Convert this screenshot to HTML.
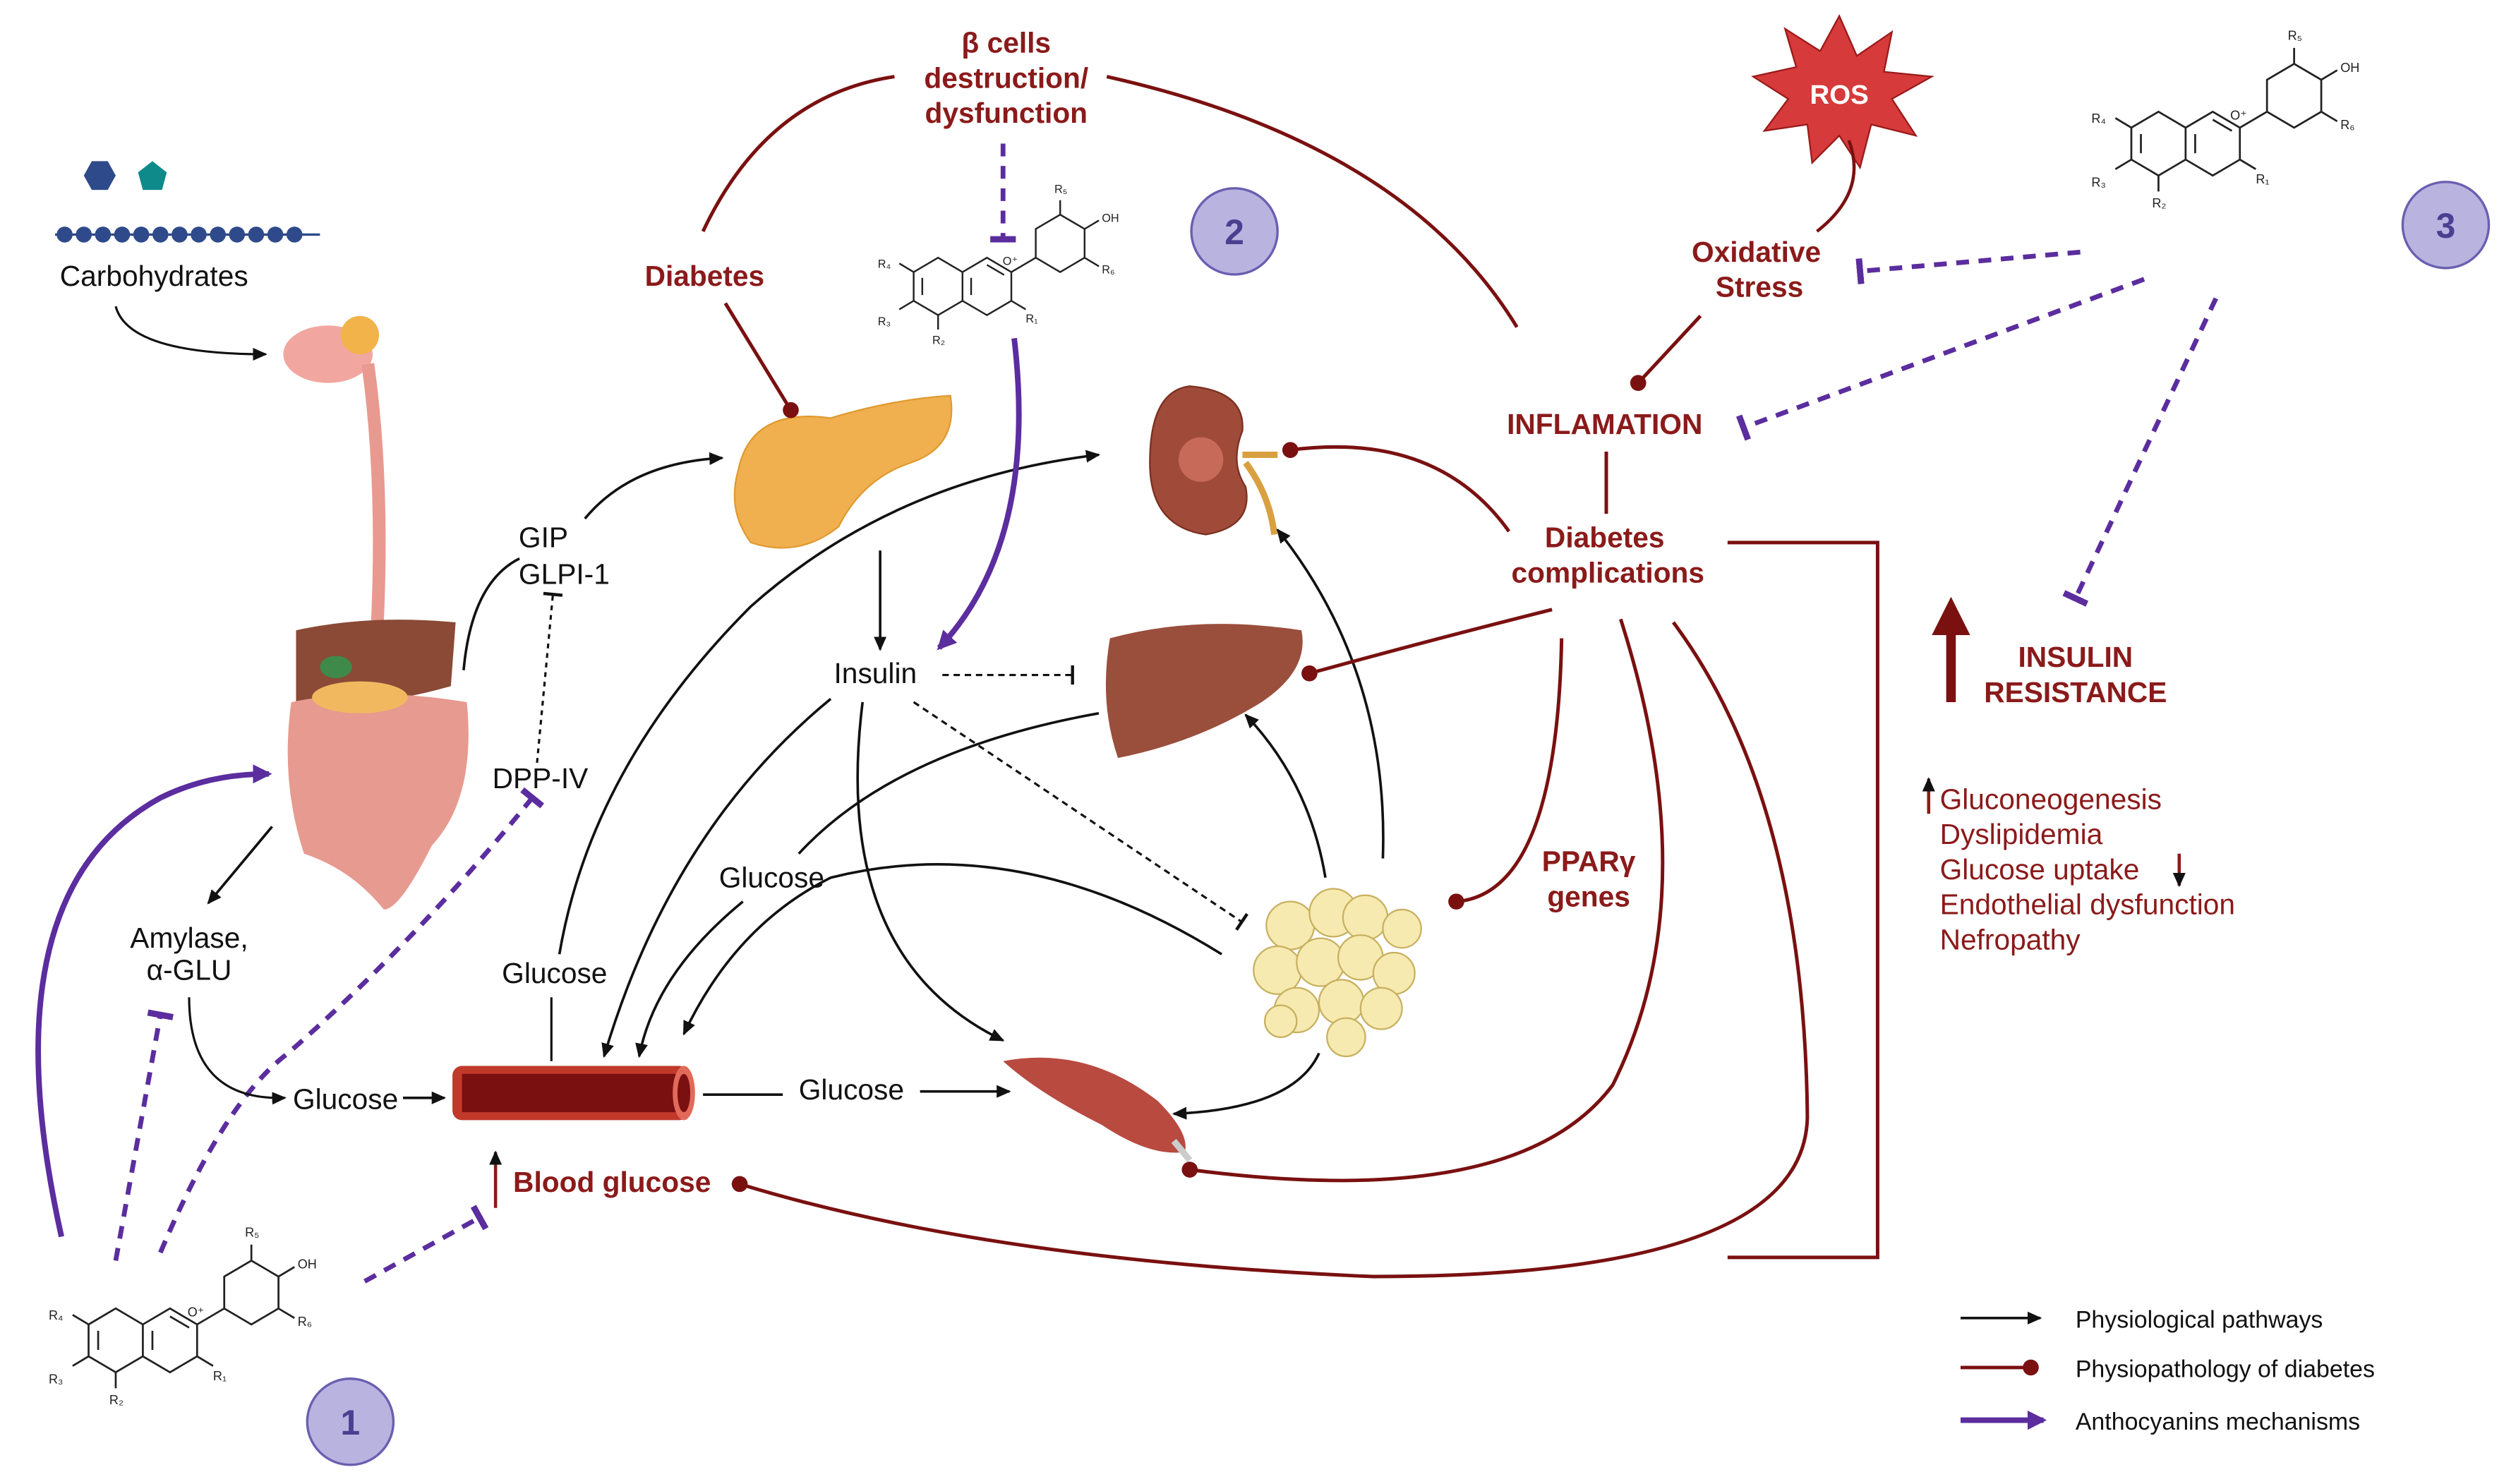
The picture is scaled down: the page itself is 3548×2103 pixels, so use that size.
<!DOCTYPE html>
<html><head><meta charset="utf-8"><style>
html,body{margin:0;padding:0;background:#fff;}
svg{display:block;}
text{font-family:"Liberation Sans",sans-serif;}
.k{font-size:18px;fill:#111;}
.r{font-size:18px;fill:#8b1a1a;font-weight:bold;}
.rl{font-size:18px;fill:#8b1a1a;}
.s{font-size:8px;fill:#222;}
</style></head><body>
<svg width="3548" height="2103" viewBox="0 0 1568 930" xmlns="http://www.w3.org/2000/svg">
<defs>
<marker id="ak" markerWidth="10" markerHeight="10" refX="8" refY="5" orient="auto" markerUnits="userSpaceOnUse"><path d="M0,1 L9,5 L0,9 Z" fill="#111"/></marker>
<marker id="ap" markerWidth="14" markerHeight="14" refX="10" refY="7" orient="auto" markerUnits="userSpaceOnUse"><path d="M0,1 L12,7 L0,13 Z" fill="#5b2d9e"/></marker>
<marker id="tp" markerWidth="4" markerHeight="20" refX="2" refY="10" orient="auto" markerUnits="userSpaceOnUse"><rect x="0" y="2" width="4" height="16" fill="#5b2d9e"/></marker>
<marker id="tk" markerWidth="3" markerHeight="14" refX="1.5" refY="7" orient="auto" markerUnits="userSpaceOnUse"><rect x="0" y="1" width="2" height="12" fill="#111"/></marker>
<marker id="dr" markerWidth="12" markerHeight="12" refX="6" refY="6" orient="auto" markerUnits="userSpaceOnUse"><circle cx="6" cy="6" r="5" fill="#7a1010"/></marker>
<g id="mol" fill="none" stroke="#222" stroke-width="1.2">
<path d="M30,45 l17,-10 l17,10 v20 l-17,10 l-17,-10 z M64,45 l17,-10 l17,10 v20 l-17,10 l-17,-10 z M98,45 l17,-10 M115,35 l0,-20 l17,-10 l17,10 v20 l-17,10 z M149,15 l10,-6 M149,35 l10,6 M132,5 v-10 M30,45 l-10,-6 M30,65 l-10,6 M47,75 v10 M98,65 l10,6 M36,49 v12 M70,49 v12 M81,40 l12,7"/>
</g>
</defs>

<!-- Carbohydrates -->
<polygon points="52,110 57,101 67,101 72,110 67,119 57,119" fill="#2e4a8a"/>
<polygon points="95,101 104,108 101,119 89,119 86,108" fill="#0e8a8a"/>
<g fill="#2e4a8a">
<circle cx="40" cy="147" r="5"/><circle cx="52" cy="147" r="5"/><circle cx="64" cy="147" r="5"/><circle cx="76" cy="147" r="5"/><circle cx="88" cy="147" r="5"/><circle cx="100" cy="147" r="5"/><circle cx="112" cy="147" r="5"/><circle cx="124" cy="147" r="5"/><circle cx="136" cy="147" r="5"/><circle cx="148" cy="147" r="5"/><circle cx="160" cy="147" r="5"/><circle cx="172" cy="147" r="5"/><circle cx="184" cy="147" r="5"/>
</g>
<line x1="34" y1="147" x2="200" y2="147" stroke="#2e4a8a" stroke-width="1.5"/>
<text x="96" y="179" class="k" text-anchor="middle">Carbohydrates</text>
<path d="M72,192 Q80,222 166,222" fill="none" stroke="#111" stroke-width="1.4" marker-end="url(#ak)"/>

<!-- digestive tract -->
<ellipse cx="205" cy="222" rx="28" ry="18" fill="#f1a7a0"/>
<ellipse cx="225" cy="210" rx="12" ry="12" fill="#f2b34a"/>
<path d="M230,228 Q240,300 236,390" stroke="#e89a90" stroke-width="8" fill="none"/>
<path d="M185,395 Q230,385 285,390 L282,430 Q230,445 185,440 Z" fill="#8a4a36"/>
<path d="M182,440 Q230,430 292,440 Q298,500 270,530 Q250,570 240,570 Q220,545 190,535 Q175,490 182,440 Z" fill="#e79a8f"/>
<ellipse cx="225" cy="437" rx="30" ry="10" fill="#f2b860"/>
<ellipse cx="210" cy="418" rx="10" ry="7" fill="#3f8a4a"/>

<text x="340" y="343" class="k" text-anchor="middle">GIP</text>
<text x="353" y="366" class="k" text-anchor="middle">GLPI-1</text>
<text x="338" y="494" class="k" text-anchor="middle">DPP-IV</text>
<path d="M290,420 Q295,365 325,350" fill="none" stroke="#111" stroke-width="1.6"/>
<path d="M366,325 Q395,290 452,287" fill="none" stroke="#111" stroke-width="1.6" marker-end="url(#ak)"/>
<path d="M336,478 L346,372" fill="none" stroke="#111" stroke-width="1.4" stroke-dasharray="3,3" marker-end="url(#tk)"/>
<path d="M100,785 Q140,690 180,660 Q260,590 333,500" fill="none" stroke="#5b2d9e" stroke-width="3" stroke-dasharray="8,6" marker-end="url(#tp)"/>
<path d="M72,790 L100,636" fill="none" stroke="#5b2d9e" stroke-width="3" stroke-dasharray="8,6" marker-end="url(#tp)"/>
<path d="M38,775 Q-10,560 100,500 Q130,485 168,485" fill="none" stroke="#5b2d9e" stroke-width="3.5" marker-end="url(#ap)"/>

<text x="118" y="594" class="k" text-anchor="middle">Amylase,</text>
<text x="118" y="614" class="k" text-anchor="middle">α-GLU</text>
<path d="M170,518 L130,566" fill="none" stroke="#111" stroke-width="1.6" marker-end="url(#ak)"/>
<path d="M118,625 Q118,690 178,688" fill="none" stroke="#111" stroke-width="1.4" marker-end="url(#ak)"/>
<text x="216" y="695" class="k" text-anchor="middle">Glucose</text>
<path d="M252,688 L278,688" stroke="#111" stroke-width="1.6" marker-end="url(#ak)"/>

<!-- vessel -->
<rect x="283" y="668" width="148" height="34" rx="6" fill="#c0392b"/>
<rect x="289" y="673" width="136" height="24" fill="#7a1010"/>
<ellipse cx="428" cy="685" rx="7" ry="17" fill="#e26a5a"/>
<ellipse cx="428" cy="685" rx="4" ry="12" fill="#7a1010"/>
<text x="347" y="616" class="k" text-anchor="middle">Glucose</text>
<path d="M345,665 L345,625" stroke="#111" stroke-width="1.4"/>
<path d="M350,598 Q370,480 470,380 Q560,300 688,285" fill="none" stroke="#111" stroke-width="1.6" marker-end="url(#ak)"/>
<path d="M440,686 L490,686" stroke="#111" stroke-width="1.6"/>
<text x="533" y="689" class="k" text-anchor="middle">Glucose</text>
<path d="M576,684 L632,684" stroke="#111" stroke-width="1.6" marker-end="url(#ak)"/>
<path d="M310,757 L310,722" stroke="#8b1a1a" stroke-width="2" marker-end="url(#ak)"/>
<text x="383" y="747" class="r" text-anchor="middle">Blood glucose</text>
<path d="M228,803 L300,763" fill="none" stroke="#5b2d9e" stroke-width="3" stroke-dasharray="8,6" marker-end="url(#tp)"/>

<!-- molecule 1 -->
<g transform="translate(25,785)"><use href="#mol"/>
<text x="5" y="42" class="s">R₄</text><text x="5" y="82" class="s">R₃</text><text x="43" y="95" class="s">R₂</text><text x="108" y="80" class="s">R₁</text><text x="128" y="-10" class="s">R₅</text><text x="161" y="10" class="s">OH</text><text x="161" y="46" class="s">R₆</text><text x="92" y="40" class="s">O⁺</text></g>
<circle cx="219" cy="891" r="27" fill="#b9b3e0" stroke="#6a5fb0" stroke-width="1.5"/>
<text x="219" y="899" text-anchor="middle" style="font-size:22px;font-weight:bold;fill:#4a3f90">1</text>

<!-- pancreas -->
<path d="M462,295 Q470,255 520,262 Q560,250 595,248 Q600,280 570,290 Q540,300 525,330 Q500,350 470,340 Q455,320 462,295 Z" fill="#f0b050" stroke="#e09a30"/>
<text x="441" y="179" class="r" text-anchor="middle">Diabetes</text>
<path d="M454,190 L495,257" stroke="#7a1010" stroke-width="2.2" marker-end="url(#dr)"/>
<text x="630" y="33" class="r" text-anchor="middle">β cells</text>
<text x="630" y="55" class="r" text-anchor="middle">destruction/</text>
<text x="630" y="77" class="r" text-anchor="middle">dysfunction</text>
<path d="M560,48 Q480,60 440,145" fill="none" stroke="#7a1010" stroke-width="2.2"/>
<path d="M693,48 Q880,90 950,205" fill="none" stroke="#7a1010" stroke-width="2.2"/>
<path d="M628,90 L628,150" stroke="#5b2d9e" stroke-width="3" stroke-dasharray="8,6" marker-end="url(#tp)"/>
<g transform="translate(545,130) scale(0.9)"><use href="#mol"/>
<text x="5" y="42" class="s">R₄</text><text x="5" y="82" class="s">R₃</text><text x="43" y="95" class="s">R₂</text><text x="108" y="80" class="s">R₁</text><text x="128" y="-10" class="s">R₅</text><text x="161" y="10" class="s">OH</text><text x="161" y="46" class="s">R₆</text><text x="92" y="40" class="s">O⁺</text></g>
<circle cx="773" cy="145" r="27" fill="#b9b3e0" stroke="#6a5fb0" stroke-width="1.5"/>
<text x="773" y="153" text-anchor="middle" style="font-size:22px;font-weight:bold;fill:#4a3f90">2</text>
<path d="M635,212 Q650,340 588,406" fill="none" stroke="#5b2d9e" stroke-width="3.5" marker-end="url(#ap)"/>

<text x="548" y="428" class="k" text-anchor="middle">Insulin</text>
<path d="M551,345 L551,407" stroke="#111" stroke-width="1.6" marker-end="url(#ak)"/>
<path d="M590,423 L672,423" stroke="#111" stroke-width="1.4" stroke-dasharray="4,3" marker-end="url(#tk)"/>
<path d="M572,440 L778,578" stroke="#111" stroke-width="1.4" stroke-dasharray="4,3" marker-end="url(#tk)"/>
<path d="M520,438 Q420,520 378,662" fill="none" stroke="#111" stroke-width="1.6" marker-end="url(#ak)"/>
<path d="M540,440 Q520,600 628,652" fill="none" stroke="#111" stroke-width="1.6" marker-end="url(#ak)"/>
<text x="483" y="556" class="k" text-anchor="middle">Glucose</text>
<path d="M688,447 Q560,470 500,535 M465,565 Q410,610 400,662" fill="none" stroke="#111" stroke-width="1.6" marker-end="url(#ak)"/>
<path d="M765,598 Q640,520 520,550 Q460,580 428,648" fill="none" stroke="#111" stroke-width="1.6" marker-end="url(#ak)"/>

<!-- kidney -->
<path d="M745,242 Q780,245 778,270 Q770,290 780,305 Q785,330 755,335 Q720,330 720,290 Q720,245 745,242 Z" fill="#a04a3a" stroke="#7a3020"/>
<path d="M778,285 L800,285 M780,290 Q795,310 798,335" stroke="#d9a040" stroke-width="4" fill="none"/>
<circle cx="752" cy="288" r="14" fill="#c86a5a"/>
<!-- liver -->
<path d="M695,400 Q750,385 815,395 Q820,420 790,440 Q750,465 700,475 Q688,440 695,400 Z" fill="#9a4e3c"/>
<!-- fat -->
<g fill="#f6eab0" stroke="#c8b060">
<circle cx="808" cy="580" r="15"/><circle cx="835" cy="572" r="15"/><circle cx="855" cy="575" r="14"/><circle cx="878" cy="582" r="12"/><circle cx="800" cy="608" r="15"/><circle cx="827" cy="603" r="15"/><circle cx="852" cy="600" r="14"/><circle cx="873" cy="610" r="13"/><circle cx="812" cy="633" r="14"/><circle cx="840" cy="628" r="14"/><circle cx="865" cy="632" r="13"/><circle cx="843" cy="650" r="12"/><circle cx="802" cy="640" r="10"/></g>
<!-- muscle -->
<path d="M628,665 Q680,655 725,690 Q745,710 742,722 Q720,725 690,705 Q650,685 628,665 Z" fill="#b84a40"/>
<path d="M735,715 L745,727" stroke="#ccc" stroke-width="4"/>

<path d="M830,550 Q820,490 780,448" fill="none" stroke="#111" stroke-width="1.6" marker-end="url(#ak)"/>
<path d="M866,538 Q870,420 800,332" fill="none" stroke="#111" stroke-width="1.6" marker-end="url(#ak)"/>
<path d="M826,660 Q810,695 735,698" fill="none" stroke="#111" stroke-width="1.6" marker-end="url(#ak)"/>

<!-- right side -->
<polygon points="1152,10 1163,35 1185,20 1180,45 1210,48 1185,62 1200,85 1172,78 1165,105 1152,85 1135,102 1132,78 1105,82 1120,62 1098,48 1125,42 1118,18 1140,32" fill="#d63a3a" stroke="#9a1a1a"/>
<text x="1152" y="65" text-anchor="middle" style="font-size:17px;font-weight:bold;fill:#fff">ROS</text>
<path d="M1158,88 Q1170,120 1138,145" fill="none" stroke="#7a1010" stroke-width="2"/>
<text x="1100" y="164" class="r" text-anchor="middle">Oxidative</text>
<text x="1102" y="186" class="r" text-anchor="middle">Stress</text>
<path d="M1065,198 L1026,240" stroke="#7a1010" stroke-width="2.2" marker-end="url(#dr)"/>
<text x="1005" y="272" class="r" text-anchor="middle">INFLAMATION</text>
<path d="M1006,283 L1006,322" stroke="#7a1010" stroke-width="2.2"/>
<text x="1005" y="343" class="r" text-anchor="middle">Diabetes</text>
<text x="1007" y="365" class="r" text-anchor="middle">complications</text>
<path d="M1082,340 L1176,340 L1176,788 L1082,788" fill="none" stroke="#7a1010" stroke-width="2.2"/>
<path d="M945,333 Q900,270 808,282" fill="none" stroke="#7a1010" stroke-width="2.2" marker-end="url(#dr)"/>
<path d="M972,382 Q900,400 820,422" fill="none" stroke="#7a1010" stroke-width="2.2" marker-end="url(#dr)"/>
<path d="M978,400 Q975,560 912,565" fill="none" stroke="#7a1010" stroke-width="2.2" marker-end="url(#dr)"/>
<path d="M1015,388 Q1070,560 1010,680 Q950,760 745,733" fill="none" stroke="#7a1010" stroke-width="2.2" marker-end="url(#dr)"/>
<path d="M1048,390 Q1130,500 1132,700 Q1130,800 860,800 Q620,790 463,742" fill="none" stroke="#7a1010" stroke-width="2.2" marker-end="url(#dr)"/>
<text x="995" y="546" class="r" text-anchor="middle">PPARγ</text>
<text x="995" y="568" class="r" text-anchor="middle">genes</text>

<g transform="translate(1305,35)"><use href="#mol"/>
<text x="5" y="42" class="s">R₄</text><text x="5" y="82" class="s">R₃</text><text x="43" y="95" class="s">R₂</text><text x="108" y="80" class="s">R₁</text><text x="128" y="-10" class="s">R₅</text><text x="161" y="10" class="s">OH</text><text x="161" y="46" class="s">R₆</text><text x="92" y="40" class="s">O⁺</text></g>
<circle cx="1532" cy="141" r="27" fill="#b9b3e0" stroke="#6a5fb0" stroke-width="1.5"/>
<text x="1532" y="149" text-anchor="middle" style="font-size:22px;font-weight:bold;fill:#4a3f90">3</text>
<path d="M1303,158 L1165,170" stroke="#5b2d9e" stroke-width="3" stroke-dasharray="8,6" marker-end="url(#tp)"/>
<path d="M1343,175 L1092,268" stroke="#5b2d9e" stroke-width="3" stroke-dasharray="8,6" marker-end="url(#tp)"/>
<path d="M1388,187 L1300,375" stroke="#5b2d9e" stroke-width="3" stroke-dasharray="8,6" marker-end="url(#tp)"/>

<path d="M1222,440 L1222,395" stroke="#7a1010" stroke-width="6"/>
<polygon points="1210,398 1222,374 1234,398" fill="#7a1010"/>
<text x="1300" y="418" class="r" text-anchor="middle">INSULIN</text>
<text x="1300" y="440" class="r" text-anchor="middle">RESISTANCE</text>

<path d="M1208,510 L1208,488" stroke="#8b1a1a" stroke-width="2" marker-end="url(#ak)"/>
<text x="1215" y="507" class="rl">Gluconeogenesis</text>
<text x="1215" y="529" class="rl">Dyslipidemia</text>
<text x="1215" y="551" class="rl">Glucose uptake</text>
<path d="M1365,535 L1365,555" stroke="#8b1a1a" stroke-width="2" marker-end="url(#ak)"/>
<text x="1215" y="573" class="rl">Endothelial dysfunction</text>
<text x="1215" y="595" class="rl">Nefropathy</text>

<path d="M1228,826 L1278,826" stroke="#111" stroke-width="1.6" marker-end="url(#ak)"/>
<text x="1300" y="832" style="font-size:15px;fill:#111">Physiological pathways</text>
<path d="M1228,857 L1272,857" stroke="#7a1010" stroke-width="2.2" marker-end="url(#dr)"/>
<text x="1300" y="863" style="font-size:15px;fill:#111">Physiopathology of diabetes</text>
<path d="M1228,890 L1280,890" stroke="#5b2d9e" stroke-width="3.5" marker-end="url(#ap)"/>
<text x="1300" y="896" style="font-size:15px;fill:#111">Anthocyanins mechanisms</text>
</svg>
</body></html>
